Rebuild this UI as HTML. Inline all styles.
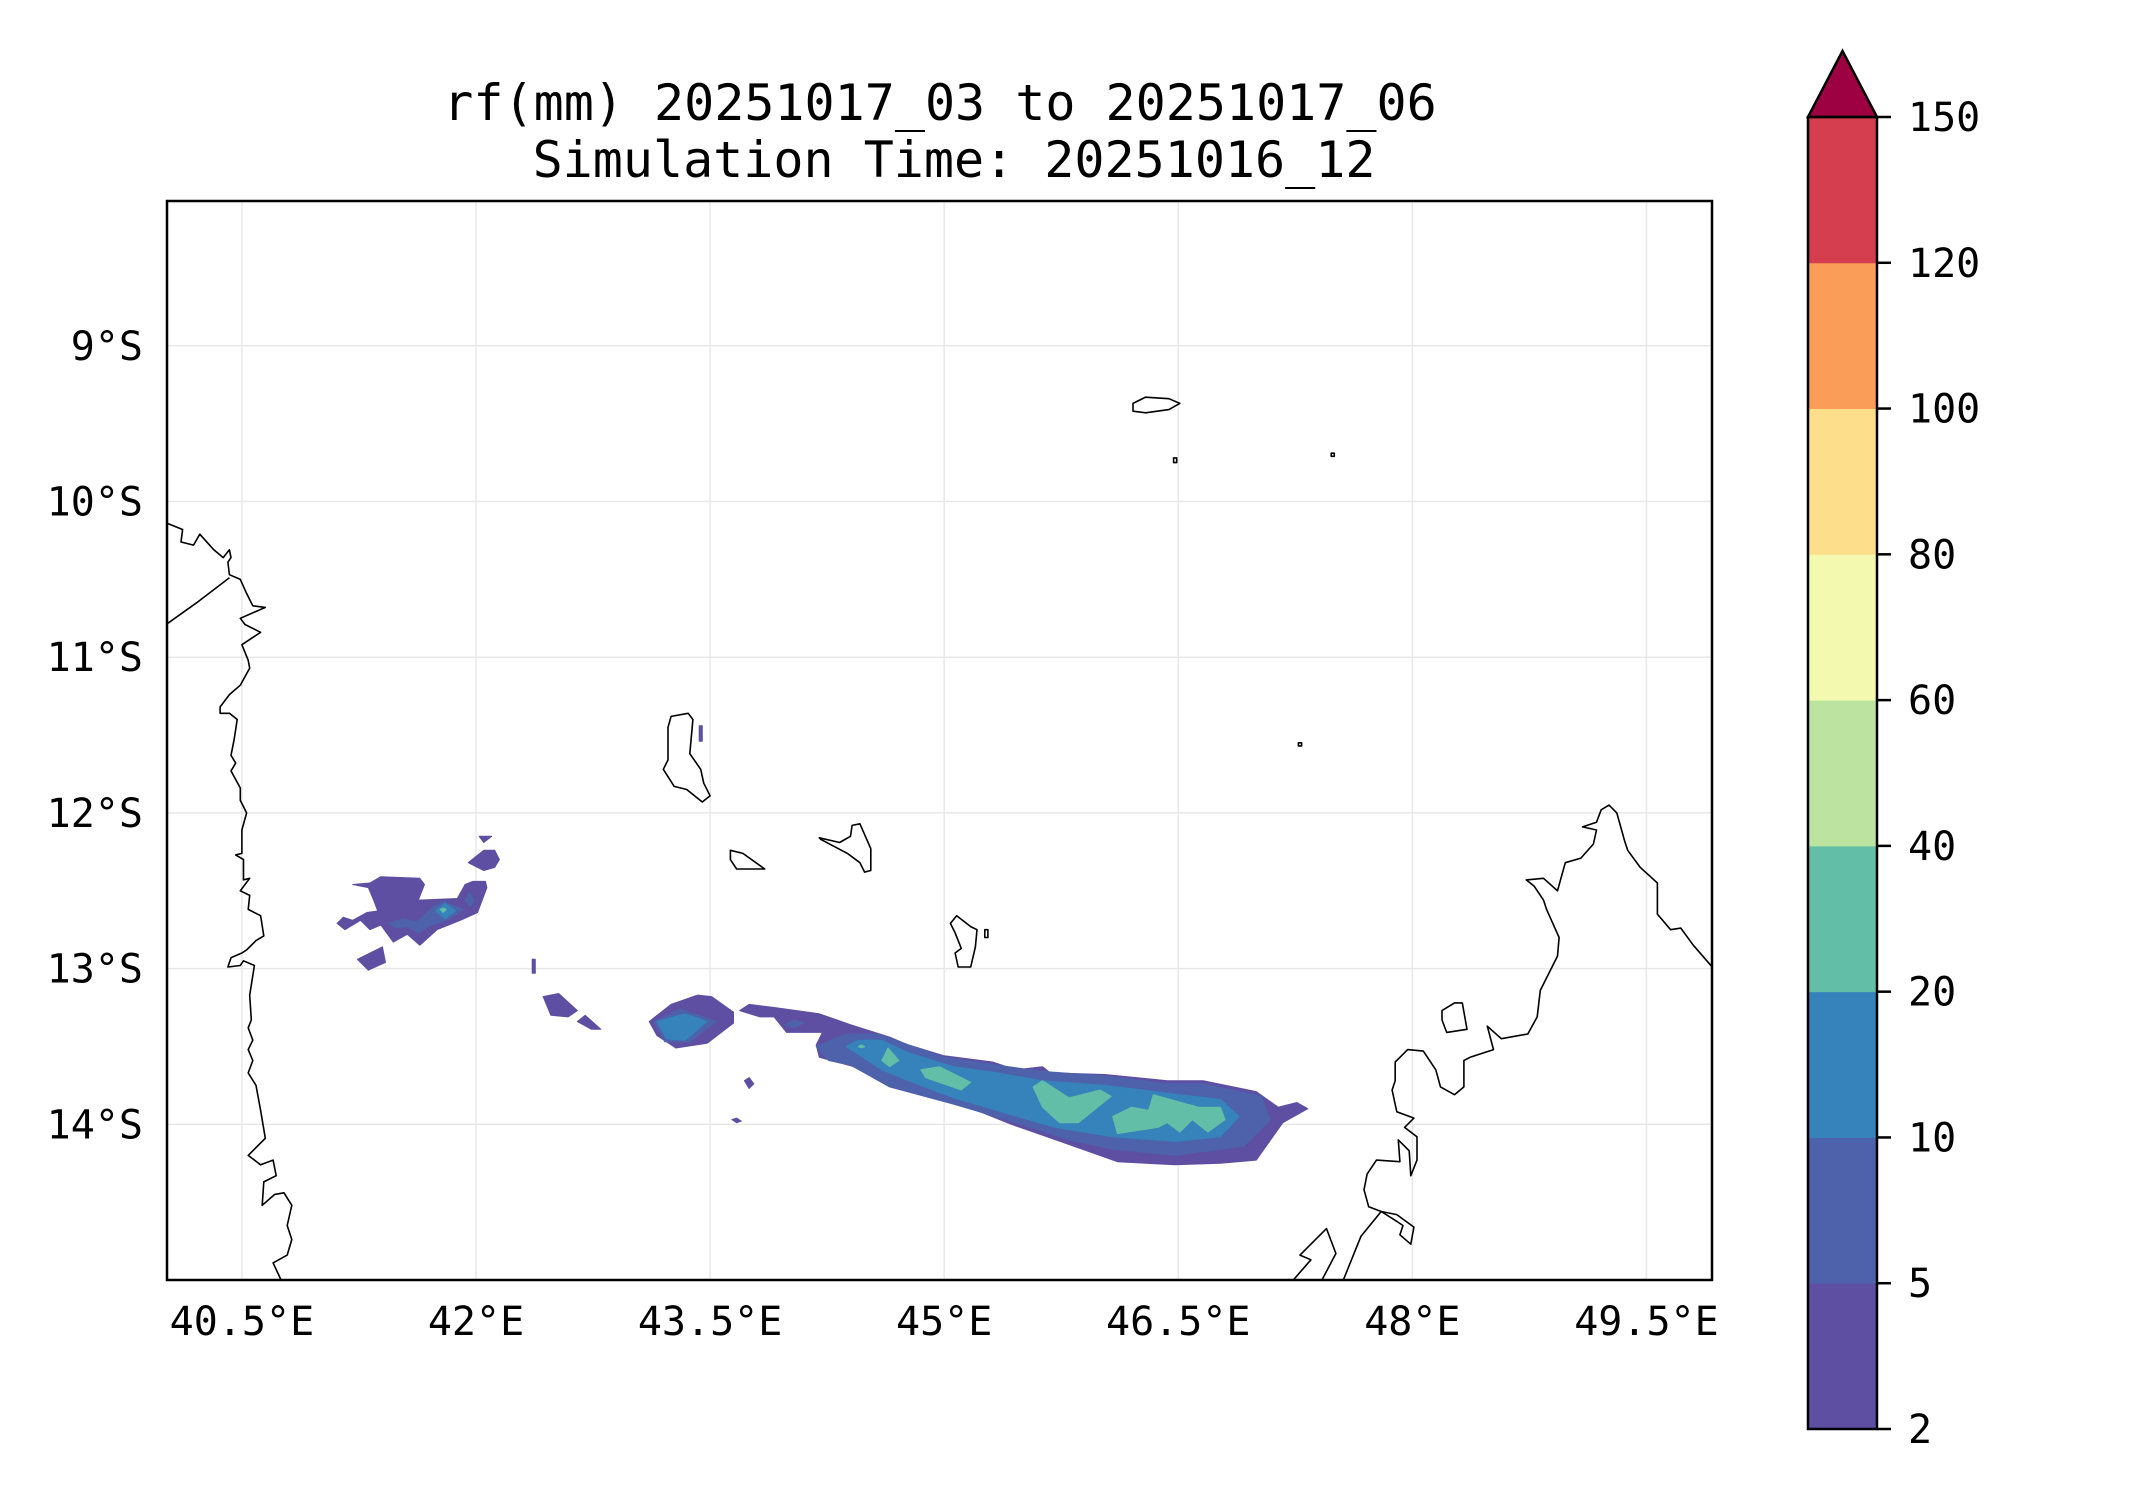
<!DOCTYPE html>
<html><head><meta charset="utf-8"><title>rf(mm) map</title>
<style>
html,body{margin:0;padding:0;background:#fff;}
svg{display:block;}
text{font-family:"DejaVu Sans Mono","Liberation Mono",monospace;fill:#000;}
</style></head>
<body>
<svg id="chart" width="2142" height="1500" viewBox="0 0 2142 1500" xmlns="http://www.w3.org/2000/svg">
<rect x="0" y="0" width="2142" height="1500" fill="#fff"/>
<text x="940" y="120" font-size="50" text-anchor="middle">rf(mm) 20251017_03 to 20251017_06</text>
<text x="954" y="177" font-size="50" text-anchor="middle">Simulation Time: 20251016_12</text>
<defs><clipPath id="plotclip"><rect x="167" y="201" width="1545" height="1079"/></clipPath></defs>
<g id="grid"></g>
<g id="rain" clip-path="url(#plotclip)"></g>
<g id="coast" clip-path="url(#plotclip)"></g>
<rect x="167" y="201" width="1545" height="1079" fill="none" stroke="#000" stroke-width="2.5"/>
<g id="xticks"></g>
<g id="yticks"></g>
<g id="cbar"></g>
</svg>
<script>
const lonTicks = [40.5, 42, 43.5, 45, 46.5, 48, 49.5];
const lonLabels = ["40.5°E","42°E","43.5°E","45°E","46.5°E","48°E","49.5°E"];
const latTicks = [-9, -10, -11, -12, -13, -14];
const latLabels = ["9°S","10°S","11°S","12°S","13°S","14°S"];
const cbarLevels = [2, 5, 10, 20, 40, 60, 80, 100, 120, 150];
const cbarColors = ["#5e4fa2","#4d62ab","#3682ba","#62bea6","#bce4a0","#f3faaf","#fddf8b","#f99d59","#d53e4f"];
const extendColor = "#9e0142";

const rainLevels = [0,0,0,0,0,0,0,0,0,1,1,2,0,1,1,1,2,3,0,0,2,2,2,2,3,3,3,3,3];
const rainPolys = [
 [[43.69,-13.27],[43.75,-13.23],[43.91,-13.25],[44.20,-13.29],[44.40,-13.36],[44.65,-13.44],[44.77,-13.49],[45.00,-13.56],[45.31,-13.60],[45.46,-13.65],[45.63,-13.63],[45.68,-13.67],[46.03,-13.68],[46.43,-13.72],[46.66,-13.72],[47.00,-13.79],[47.14,-13.89],[47.26,-13.86],[47.33,-13.90],[47.17,-13.99],[47.00,-14.23],[46.77,-14.25],[46.48,-14.26],[46.11,-14.24],[45.80,-14.13],[45.43,-14.00],[45.23,-13.92],[45.00,-13.84],[44.85,-13.78],[44.62,-13.73],[44.42,-13.63],[44.20,-13.57],[44.18,-13.49],[44.22,-13.41],[43.99,-13.41],[43.91,-13.31],[43.82,-13.31]],
 [[43.11,-13.34],[43.25,-13.23],[43.42,-13.17],[43.51,-13.18],[43.65,-13.28],[43.65,-13.35],[43.48,-13.48],[43.28,-13.51],[43.16,-13.43]],
 [[43.72,-13.72],[43.75,-13.70],[43.78,-13.74],[43.75,-13.77]],
 [[43.64,-13.97],[43.67,-13.96],[43.70,-13.98],[43.67,-13.99]],
 [[41.21,-12.46],[41.32,-12.45],[41.39,-12.41],[41.64,-12.42],[41.67,-12.46],[41.63,-12.56],[41.88,-12.55],[41.93,-12.46],[41.98,-12.44],[42.06,-12.44],[42.07,-12.48],[42.01,-12.64],[41.90,-12.69],[41.75,-12.75],[41.64,-12.85],[41.56,-12.78],[41.47,-12.83],[41.39,-12.72],[41.32,-12.75],[41.26,-12.69],[41.16,-12.75],[41.11,-12.71],[41.15,-12.67],[41.21,-12.69],[41.30,-12.64],[41.37,-12.63],[41.34,-12.55],[41.31,-12.48]],
 [[42.02,-12.15],[42.10,-12.15],[42.05,-12.19]],
 [[41.95,-12.32],[42.05,-12.24],[42.12,-12.24],[42.15,-12.30],[42.12,-12.35],[42.05,-12.37]],
 [[41.24,-12.94],[41.40,-12.86],[41.42,-12.96],[41.31,-13.01]],
 [[42.36,-12.94],[42.38,-12.94],[42.38,-13.03],[42.36,-13.03]],
 [[41.44,-12.71],[41.53,-12.68],[41.62,-12.70],[41.73,-12.60],[41.80,-12.57],[41.92,-12.62],[41.81,-12.69],[41.71,-12.72],[41.63,-12.77],[41.56,-12.73],[41.49,-12.74]],
 [[41.93,-12.56],[41.96,-12.51],[41.99,-12.57],[41.96,-12.60]],
 [[41.74,-12.63],[41.80,-12.58],[41.87,-12.63],[41.80,-12.68]],
 [[42.43,-13.18],[42.53,-13.16],[42.65,-13.27],[42.59,-13.31],[42.48,-13.30]],
 [[43.14,-13.34],[43.31,-13.26],[43.54,-13.34],[43.37,-13.47],[43.21,-13.47]],
 [[44.18,-13.50],[44.37,-13.42],[44.57,-13.42],[44.77,-13.49],[45.00,-13.57],[45.34,-13.62],[45.63,-13.66],[46.03,-13.69],[46.43,-13.74],[46.66,-13.74],[47.03,-13.82],[47.09,-13.97],[46.92,-14.14],[46.48,-14.20],[46.08,-14.16],[45.80,-14.10],[45.43,-13.98],[45.06,-13.87],[44.65,-13.76],[44.40,-13.62],[44.26,-13.59]],
 [[43.98,-13.36],[44.04,-13.33],[44.10,-13.35],[44.04,-13.38]],
 [[43.16,-13.34],[43.34,-13.29],[43.48,-13.34],[43.34,-13.46],[43.22,-13.45]],
 [[41.79,-12.61],[41.81,-12.62],[41.79,-12.64],[41.77,-12.62]],
 [[42.65,-13.34],[42.70,-13.30],[42.80,-13.39],[42.74,-13.39]],
 [[43.43,-11.44],[43.45,-11.44],[43.45,-11.54],[43.43,-11.54]],
 [[44.37,-13.50],[44.45,-13.46],[44.60,-13.46],[44.77,-13.54],[45.06,-13.63],[45.34,-13.67],[45.63,-13.72],[46.03,-13.75],[46.43,-13.80],[46.77,-13.84],[46.89,-13.95],[46.77,-14.08],[46.48,-14.11],[46.08,-14.08],[45.71,-14.02],[45.40,-13.93],[45.06,-13.83],[44.77,-13.72],[44.60,-13.65],[44.48,-13.57]],
 [[44.40,-13.50],[44.47,-13.48],[44.51,-13.50],[44.47,-13.53]],
 [[45.19,-13.81],[45.21,-13.78],[45.23,-13.81],[45.21,-13.84]],
 [[45.35,-13.81],[45.37,-13.78],[45.39,-13.81],[45.37,-13.84]],
 [[44.85,-13.65],[44.97,-13.63],[45.17,-13.73],[45.11,-13.78],[44.88,-13.70]],
 [[44.60,-13.59],[44.64,-13.51],[44.71,-13.59],[44.65,-13.63]],
 [[45.57,-13.76],[45.63,-13.72],[45.80,-13.83],[46.00,-13.78],[46.07,-13.82],[45.86,-13.99],[45.74,-13.99],[45.63,-13.89]],
 [[46.08,-13.95],[46.20,-13.89],[46.31,-13.91],[46.34,-13.81],[46.63,-13.89],[46.77,-13.89],[46.80,-13.97],[46.69,-14.05],[46.59,-13.97],[46.51,-14.05],[46.43,-13.99],[46.37,-14.02],[46.11,-14.06]],
 [[44.45,-13.50],[44.47,-13.49],[44.49,-13.50],[44.47,-13.51]]
];

const coastClosed = [false,false,false,false,true,true,true,true,true,true,true,true,true,true];
const coastLines = [
 [[40.02,-10.14],[40.12,-10.18],[40.11,-10.26],[40.19,-10.28],[40.23,-10.21],[40.32,-10.31],[40.38,-10.36],[40.42,-10.31],[40.43,-10.36],[40.41,-10.39],[40.42,-10.47],[40.49,-10.50],[40.53,-10.59],[40.57,-10.67],[40.65,-10.68],[40.49,-10.75],[40.52,-10.79],[40.62,-10.84],[40.50,-10.92],[40.54,-11.02],[40.55,-11.07],[40.49,-11.18],[40.42,-11.24],[40.36,-11.32],[40.36,-11.36],[40.42,-11.36],[40.47,-11.40],[40.45,-11.53],[40.43,-11.63],[40.46,-11.68],[40.43,-11.73],[40.49,-11.84],[40.49,-11.92],[40.53,-12.00],[40.50,-12.11],[40.50,-12.26],[40.46,-12.27],[40.51,-12.30],[40.51,-12.43],[40.55,-12.42],[40.49,-12.50],[40.55,-12.53],[40.54,-12.62],[40.62,-12.66],[40.64,-12.79],[40.59,-12.82],[40.53,-12.88],[40.50,-12.90],[40.43,-12.93],[40.41,-12.99],[40.49,-12.98],[40.51,-12.95],[40.58,-12.98],[40.55,-13.17],[40.56,-13.33],[40.54,-13.38],[40.57,-13.46],[40.54,-13.52],[40.57,-13.59],[40.54,-13.67],[40.59,-13.75],[40.62,-13.91],[40.65,-14.09],[40.54,-14.20],[40.62,-14.26],[40.70,-14.23],[40.72,-14.33],[40.64,-14.37],[40.63,-14.52],[40.71,-14.45],[40.77,-14.44],[40.82,-14.52],[40.79,-14.65],[40.82,-14.74],[40.79,-14.84],[40.70,-14.89],[40.76,-15.02]],
 [[40.00,-10.80],[40.21,-10.65],[40.42,-10.49]],
 [[47.55,-15.02],[47.67,-14.72],[47.80,-14.56],[47.88,-14.61],[47.94,-14.65],[47.92,-14.71],[47.99,-14.77],[48.01,-14.66],[47.90,-14.58],[47.80,-14.56],[47.72,-14.53],[47.69,-14.42],[47.71,-14.32],[47.77,-14.23],[47.92,-14.24],[47.91,-14.10],[47.98,-14.17],[47.99,-14.33],[48.03,-14.23],[48.03,-14.08],[47.95,-14.02],[48.01,-13.96],[47.90,-13.92],[47.87,-13.78],[47.89,-13.72],[47.89,-13.60],[47.97,-13.52],[48.07,-13.53],[48.15,-13.65],[48.18,-13.76],[48.27,-13.81],[48.33,-13.76],[48.33,-13.59],[48.37,-13.57],[48.52,-13.52],[48.48,-13.37],[48.57,-13.45],[48.74,-13.42],[48.80,-13.31],[48.82,-13.14],[48.93,-12.92],[48.94,-12.80],[48.86,-12.62],[48.84,-12.56],[48.78,-12.47],[48.73,-12.43],[48.84,-12.42],[48.93,-12.50],[48.98,-12.32],[49.08,-12.29],[49.16,-12.20],[49.18,-12.11],[49.09,-12.09],[49.18,-12.06],[49.21,-11.98],[49.26,-11.95],[49.31,-12.00],[49.36,-12.18],[49.38,-12.24],[49.46,-12.35],[49.57,-12.45],[49.57,-12.65],[49.655,-12.75],[49.72,-12.74],[49.80,-12.85],[49.93,-13.00]],
 [[47.22,-15.02],[47.35,-14.87],[47.28,-14.84],[47.45,-14.67],[47.51,-14.83],[47.41,-15.02]],
 [[48.19,-13.27],[48.27,-13.22],[48.32,-13.22],[48.35,-13.39],[48.22,-13.41],[48.19,-13.33]],
 [[43.25,-11.38],[43.36,-11.36],[43.39,-11.40],[43.37,-11.62],[43.44,-11.72],[43.46,-11.81],[43.50,-11.89],[43.45,-11.93],[43.35,-11.85],[43.27,-11.83],[43.20,-11.72],[43.23,-11.66],[43.23,-11.45]],
 [[43.63,-12.24],[43.71,-12.26],[43.85,-12.36],[43.67,-12.36],[43.63,-12.30]],
 [[44.20,-12.16],[44.33,-12.19],[44.40,-12.15],[44.41,-12.08],[44.46,-12.07],[44.53,-12.23],[44.53,-12.37],[44.49,-12.38],[44.46,-12.32],[44.38,-12.26],[44.21,-12.17]],
 [[45.08,-12.66],[45.17,-12.73],[45.21,-12.75],[45.20,-12.86],[45.17,-12.99],[45.09,-12.99],[45.07,-12.90],[45.11,-12.87],[45.07,-12.77],[45.04,-12.71]],
 [[45.26,-12.75],[45.28,-12.75],[45.28,-12.80],[45.26,-12.80]],
 [[46.21,-9.37],[46.29,-9.33],[46.44,-9.34],[46.51,-9.37],[46.44,-9.41],[46.29,-9.43],[46.21,-9.42]],
 [[46.47,-9.72],[46.49,-9.72],[46.49,-9.75],[46.47,-9.75]],
 [[47.48,-9.69],[47.50,-9.69],[47.50,-9.71],[47.48,-9.71]],
 [[47.27,-11.55],[47.29,-11.55],[47.29,-11.57],[47.27,-11.57]]
];

const NS = "http://www.w3.org/2000/svg";
const PL = 167, PR = 1712, PT = 201, PB = 1280;
const LON0 = 40.02, LON1 = 49.92, LAT0 = -15.0, LAT1 = -8.07;
function xScale(lon){ return PL + (lon - LON0) / (LON1 - LON0) * (PR - PL); }
function yScale(lat){ return PB - (lat - LAT0) / (LAT1 - LAT0) * (PB - PT); }
function mk(tag, attrs){ const e = document.createElementNS(NS, tag); for (const k in attrs) e.setAttribute(k, attrs[k]); return e; }
function pts(arr){ return arr.map(p => xScale(p[0]).toFixed(1) + "," + yScale(p[1]).toFixed(1)).join(" "); }

const grid = document.getElementById("grid");
lonTicks.forEach((v, i) => {
  const l = mk("line", {x1: xScale(v), x2: xScale(v), y1: PT, y2: PB, stroke: "#e8e8e8", "stroke-width": 1.5});
  
  
  grid.appendChild(l);
});
latTicks.forEach((v, i) => {
  const l = mk("line", {x1: PL, x2: PR, y1: yScale(v), y2: yScale(v), stroke: "#e8e8e8", "stroke-width": 1.5});
  
  
  grid.appendChild(l);
});

const rain = document.getElementById("rain");
rainPolys.forEach((poly, i) => {
  const c = cbarColors[rainLevels[i]];
  const p = mk("polygon", {points: pts(poly), fill: c, stroke: c, "stroke-width": 1, "stroke-linejoin": "round"});
  
  
  rain.appendChild(p);
});

const coast = document.getElementById("coast");
coastLines.forEach((line, i) => {
  const p = mk(coastClosed[i] ? "polygon" : "polyline", {points: pts(line), fill: "none", stroke: "#000", "stroke-width": 1.6, "stroke-linejoin": "round"});
  
  
  coast.appendChild(p);
});

const xt = document.getElementById("xticks");
lonTicks.forEach((v, i) => {
  const t = mk("text", {x: xScale(v), y: 1335, "font-size": 40, "text-anchor": "middle"});
  t.textContent = lonLabels[i];
  
  
  xt.appendChild(t);
});
const yt = document.getElementById("yticks");
latTicks.forEach((v, i) => {
  const t = mk("text", {x: 143, y: yScale(v) + 14, "font-size": 40, "text-anchor": "end"});
  t.textContent = latLabels[i];
  
  
  yt.appendChild(t);
});

const CB = document.getElementById("cbar");
const CL = 1808, CR = 1877, CT = 117, CBt = 1429;
const nb = cbarColors.length;
function cbY(i){ return CBt - i * (CBt - CT) / nb; }
cbarColors.forEach((c, i) => {
  const r = mk("rect", {x: CL, y: cbY(i + 1), width: CR - CL, height: cbY(i) - cbY(i + 1) + 0.5, fill: c});
  
  
  CB.appendChild(r);
});
const tri = mk("polygon", {points: `${CL},${CT} ${CR},${CT} ${(CL+CR)/2},51`, fill: extendColor, stroke: "#000", "stroke-width": 2.5, "stroke-linejoin": "miter"});


CB.appendChild(tri);
const frame = mk("rect", {x: CL, y: CT, width: CR - CL, height: CBt - CT, fill: "none", stroke: "#000", "stroke-width": 2.5});


CB.appendChild(frame);
cbarLevels.forEach((v, i) => {
  const y = cbY(i);
  const tk = mk("line", {x1: CR, x2: CR + 14, y1: y, y2: y, stroke: "#000", "stroke-width": 2.5});
  
  
  CB.appendChild(tk);
  const t = mk("text", {x: 1908, y: y + 14, "font-size": 40});
  t.textContent = String(v);
  
  
  CB.appendChild(t);
});
</script>
</body></html>
